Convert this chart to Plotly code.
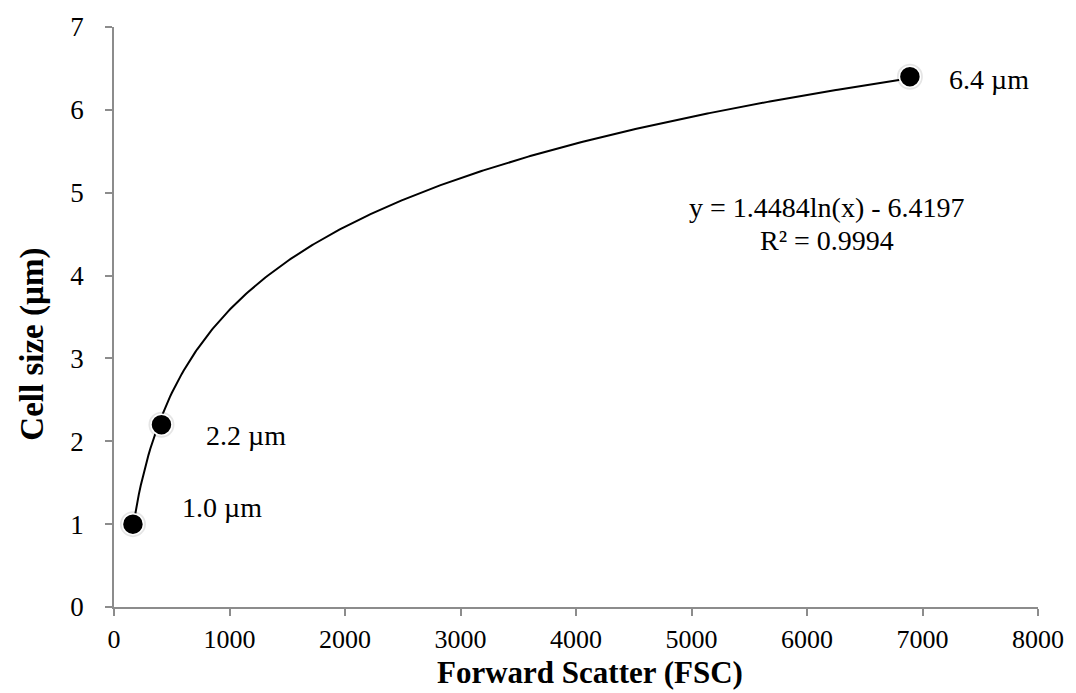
import numpy as np
import plotly.graph_objects as go

# Data
fsc = [164, 411, 6891]
cell_size = [1.0, 2.2, 6.4]
point_labels = ["1.0 µm", "2.2 µm", "6.4 µm"]
fit_a = 1.4484
fit_b = -6.4197
equation_line1 = "y = 1.4484ln(x) - 6.4197"
equation_line2 = "R² = 0.9994"
x_ticks = [0, 1000, 2000, 3000, 4000, 5000, 6000, 7000, 8000]
y_ticks = [0, 1, 2, 3, 4, 5, 6, 7]

FONT = "Liberation Serif"
AXIS_GREY = "#8c8c8c"

fit_x = np.linspace(min(fsc), max(fsc), 400)
fit_y = fit_a * np.log(fit_x) + fit_b

fig = go.Figure()
fig.add_trace(go.Scatter(x=fit_x, y=fit_y, mode="lines",
                         line=dict(color="black", width=2), hoverinfo="skip",
                         showlegend=False))
# soft shadow beneath markers
fig.add_trace(go.Scatter(x=fsc, y=cell_size, mode="markers",
                         marker=dict(size=26, color="rgba(0,0,0,0.10)", line=dict(width=0)),
                         showlegend=False, hoverinfo="skip"))
fig.add_trace(go.Scatter(x=fsc, y=cell_size, mode="markers",
                         marker=dict(size=21, color="black", line=dict(color="white", width=1.5)),
                         showlegend=False))

label_shifts = [(47, 17), (43, -11), (37, -3)]
for xv, yv, t, (dx, dy) in zip(fsc, cell_size, point_labels, label_shifts):
    fig.add_annotation(x=xv, y=yv, text=t, showarrow=False, xanchor="left",
                       yanchor="middle", xshift=dx, yshift=dy,
                       font=dict(family=FONT, size=28, color="black"))

fig.add_annotation(x=0.772, y=0.6886, xref="paper", yref="paper", text=equation_line1,
                   showarrow=False, xanchor="center", yanchor="middle",
                   font=dict(family=FONT, size=28, color="black"))
fig.add_annotation(x=0.772, y=0.6323, xref="paper", yref="paper", text=equation_line2,
                   showarrow=False, xanchor="center", yanchor="middle",
                   font=dict(family=FONT, size=28, color="black"))

# axis titles
fig.add_annotation(x=0.5156, y=-0.147, xref="paper", yref="paper",
                   text="<b>Forward Scatter (FSC)</b>", showarrow=False,
                   xanchor="center", yanchor="bottom",
                   font=dict(family=FONT, size=31, color="black"))
fig.add_annotation(x=-0.0883, y=0.453, xref="paper", yref="paper",
                   text="<b>Cell size (µm)</b>", showarrow=False, textangle=-90,
                   xanchor="center", yanchor="middle",
                   font=dict(family=FONT, size=33, color="black"))

fig.update_layout(
    width=1076, height=693,
    margin=dict(l=114, r=33, t=20, b=86),
    paper_bgcolor="white", plot_bgcolor="white",
    font=dict(family=FONT, size=26, color="black"),
    xaxis=dict(range=[0, 8000], tickvals=x_ticks, showgrid=False, zeroline=False,
               showline=True, linecolor=AXIS_GREY, linewidth=1.5,
               ticks="outside", ticklen=7, tickcolor=AXIS_GREY, tickwidth=1.5,
               ticklabelstandoff=1, tickfont=dict(family=FONT, size=26)),
    yaxis=dict(range=[0, 7], tickvals=y_ticks, showgrid=False, zeroline=False,
               showline=True, linecolor=AXIS_GREY, linewidth=1.5,
               ticks="outside", ticklen=7, tickcolor=AXIS_GREY, tickwidth=1.5,
               ticklabelstandoff=16, tickfont=dict(family=FONT, size=27)),
)

fig.write_html("out.html")
